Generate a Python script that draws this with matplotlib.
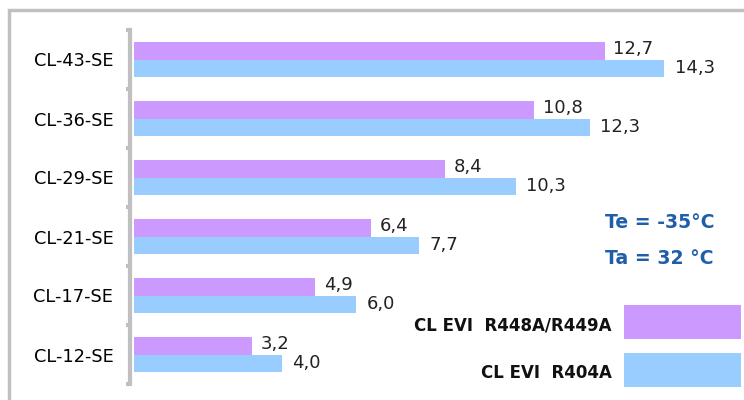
import matplotlib.pyplot as plt
import numpy as np
from matplotlib.patches import Rectangle

models = ["CL-43-SE", "CL-36-SE", "CL-29-SE", "CL-21-SE", "CL-17-SE", "CL-12-SE"]
r448 = [12.7, 10.8, 8.4, 6.4, 4.9, 3.2]
r404 = [14.3, 12.3, 10.3, 7.7, 6.0, 4.0]
series = ["CL EVI  R448A/R449A", "CL EVI  R404A"]
colors = ["#CC99FF", "#99CCFF"]
grey = "#C0C0C0"

W, H = 744, 400
fig = plt.figure(figsize=(W / 100, H / 100), dpi=100)

# outer frame
fig.patches.append(Rectangle((9 / W, -0.1), 2, (H - 10) / H + 0.1, transform=fig.transFigure,
                             fill=False, edgecolor=grey, linewidth=2.5))

ax = fig.add_axes([130 / W, (H - 384) / H, (W - 130) / W, (384 - 30) / H])
n = len(models)
y = np.arange(n)[::-1]
h = 0.3
ax.barh(y + h / 2, r448, h, color=colors[0], left=0)
ax.barh(y - h / 2, r404, h, color=colors[1], left=0)
for yi, a, b in zip(y, r448, r404):
    ax.text(a + 0.22, yi + h / 2 + 0.03, f"{a:.1f}".replace(".", ","), va="center", ha="left",
            fontsize=13, color="#222222")
    ax.text(b + 0.28, yi - h / 2, f"{b:.1f}".replace(".", ","), va="center", ha="left",
            fontsize=13, color="#222222")

ax.set_xlim(-0.1, 16.45)
ax.set_ylim(-0.5, n - 0.5)
ax.set_yticks(y, labels=models, fontsize=12.8)
ax.set_yticks(np.arange(n + 1) - 0.5, minor=True)
ax.tick_params(axis="y", which="major", length=0, pad=12)
ax.tick_params(axis="y", which="minor", length=3, width=3, color=grey)
ax.set_xticks([])
for s in ["top", "right", "bottom"]:
    ax.spines[s].set_visible(False)
ax.spines["left"].set_color(grey)
ax.spines["left"].set_linewidth(3)

# conditions
fig.text(605 / W, 1 - 222 / H, "Te = -35°C", color="#1F5FA8", fontsize=13.6,
         fontweight="bold", va="center", ha="left")
fig.text(605 / W, 1 - 258 / H, "Ta = 32 °C", color="#1F5FA8", fontsize=13.6,
         fontweight="bold", va="center", ha="left")

# legend
for i, (lab, c) in enumerate(zip(series, colors)):
    top = 305 + i * 48
    fig.patches.append(Rectangle((624 / W, 1 - (top + 34) / H), 117 / W, 34 / H,
                                 transform=fig.transFigure, facecolor=c, edgecolor="none"))
    fig.text(612 / W, 1 - (top + 20) / H, lab, fontsize=12, fontweight="bold",
             ha="right", va="center", color="#111111")

fig.savefig("out.png", dpi=100)
